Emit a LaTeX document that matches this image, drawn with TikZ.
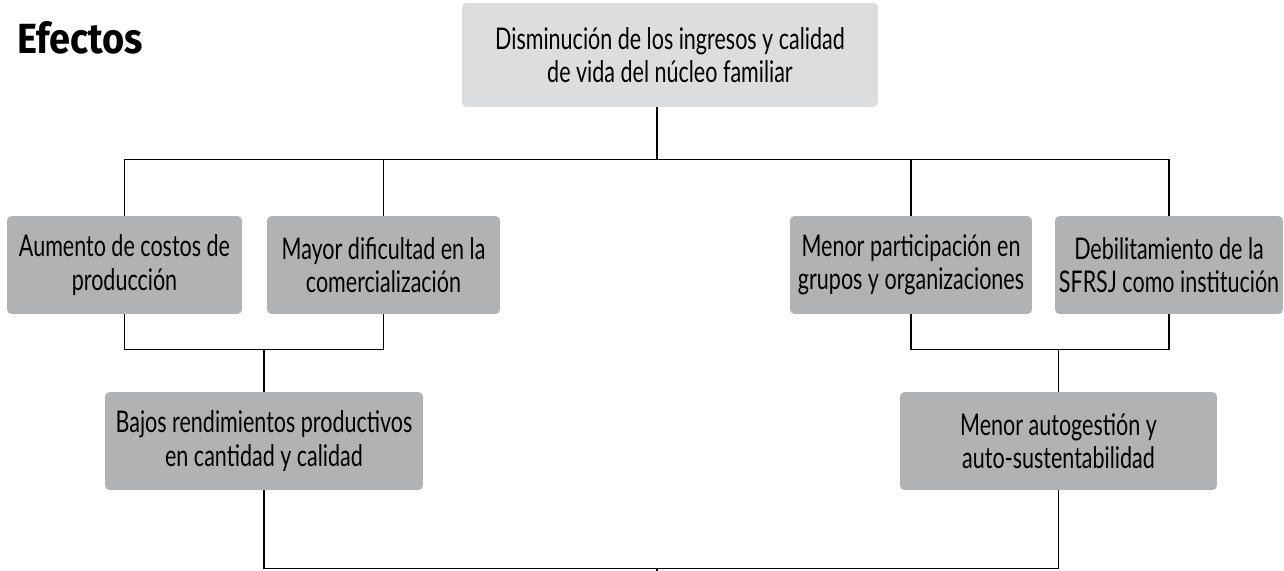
\documentclass[tikz,border=0pt]{standalone}
\usepackage{fontspec}
\setmainfont[FakeStretch=0.72]{Lato}
\newfontfamily\titlefont[FakeStretch=0.9]{Fira Sans}
\usetikzlibrary{positioning}
\definecolor{cajagris}{HTML}{B1B2B4}
\definecolor{cajaclara}{HTML}{DCDDDE}
\tikzset{
 efecto/.style={rectangle, rounded corners=0.09cm, fill=cajagris, minimum width=#1,
   minimum height=1.96cm, align=center, inner sep=0pt,
   font=\fontsize{17}{19}\selectfont},
 enlace/.style={line width=0.6pt, black}
}

\begin{document}
\begin{tikzpicture}[x=0.02cm, y=-0.02cm]
 \useasboundingbox (0,0) rectangle (1284,571);

 \node[anchor=base west, font=\titlefont\bfseries\fontsize{24}{28}\selectfont] (titulo) at (11,54) {Efectos};

 % problema central arriba
 \node[efecto=8.32cm, fill=cajaclara, minimum height=2.08cm] (ingresos) at (670,55)
   {Disminución de los ingresos y calidad\\de vida del núcleo familiar};

 % efectos directos
 \node[efecto=4.7cm] (costos) at (124.5,265) {Aumento de costos de\\producción};
 \node[efecto=4.66cm] (dificultad) at (383.5,265) {Mayor dificultad en la\\comercialización};
 \node[efecto=4.84cm] (participacion) at (911,265) {Menor participación en\\grupos y organizaciones};
 \node[efecto=4.56cm] (institucion) at (1169,265) {Debilitamiento de la\\SFRSJ como institución};

 % efectos de segundo nivel
 \node[efecto=6.36cm] (rendimientos) at (264,441) {Bajos rendimientos productivos\\en cantidad y calidad};
 \node[efecto=6.34cm] (autogestion) at (1058.5,441) {Menor autogestión y\\auto-sustentabilidad};

 \coordinate (salida) at (657,571);

 \draw[enlace] (ingresos.south -| salida) -- ++(0,53);
 \draw[enlace] (costos.north) -- ++(0,-56) -| (institucion.north);
 \draw[enlace] (dificultad.north) -- ++(0,-56);
 \draw[enlace] (participacion.north) -- ++(0,-56);

 \draw[enlace] (costos.south) -- ++(0,35) -| (dificultad.south);
 \draw[enlace] (rendimientos.north) -- ++(0,-43);
 \draw[enlace] (participacion.south) -- ++(0,35) -| (institucion.south);
 \draw[enlace] (autogestion.north) -- ++(0,-43);

 \draw[enlace] (rendimientos.south) -- ++(0,78) -| (autogestion.south);
 \draw[enlace] (salida) -- ++(0,-3);
\end{tikzpicture}
\end{document}
